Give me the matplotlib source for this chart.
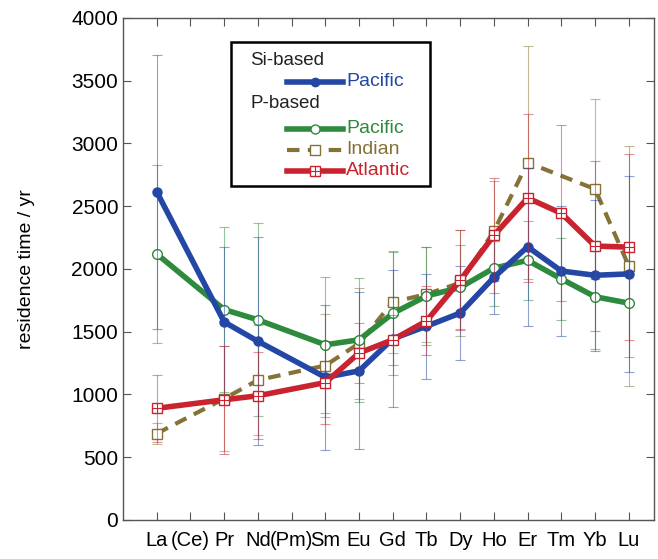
import matplotlib
matplotlib.use("Agg")
import matplotlib.pyplot as plt
import numpy as np
from matplotlib.lines import Line2D
from matplotlib.patches import Rectangle

elements = ["La", "(Ce)", "Pr", "Nd", "(Pm)", "Sm", "Eu", "Gd", "Tb", "Dy", "Ho", "Er", "Tm", "Yb", "Lu"]
nan = np.nan
si_pacific = [2614, nan, 1577, 1423, nan, 1136, 1187, 1443, 1543, 1648, 1932, 2176, 1983, 1949, 1960]
si_pacific_err = [1090, nan, 600, 830, nan, 580, 625, 545, 420, 375, 290, 630, 515, 600, 780]
p_pacific = [2119, nan, 1676, 1594, nan, 1395, 1435, 1645, 1784, 1852, 2006, 2068, 1920, 1778, 1727]
p_pacific_err = [710, nan, 660, 770, nan, 540, 495, 490, 390, 335, 300, 315, 325, 420, 430]
p_indian = [688, nan, 966, 1114, nan, 1230, 1406, 1736, 1798, 1889, 2301, 2847, nan, 2636, 2023]
p_indian_err = [85, nan, 420, 440, nan, 410, 440, 405, 380, 420, 400, 930, nan, 715, 955]
p_atlantic = [889, nan, 957, 989, nan, 1094, 1330, 1435, 1585, 1909, 2267, 2565, 2443, 2182, 2173]
p_atlantic_err = [265, nan, 430, 345, nan, 330, 240, 200, 275, 400, 460, 670, 700, 680, 740]

c_blue = "#2447a6"
c_green = "#2e8a3c"
c_olive = "#857237"
c_red = "#c9232f"

plt.rcParams['font.family'] = ['Liberation Sans', 'DejaVu Sans']
fig = plt.figure(figsize=(6.58, 5.59), dpi=100)
ax = fig.add_axes([0.187, 0.07, 0.807, 0.898])

x = np.arange(len(elements))

def series(y, err, color, marker, ls, lw, mfc, ms, z, cross=False):
    y = np.array(y, float)
    err = np.array(err, float)
    m = ~np.isnan(y)
    xs, ys, es = x[m], y[m], err[m]
    ax.errorbar(xs, ys, yerr=es, fmt='none', ecolor=color, elinewidth=0.8, capsize=3.5,
                capthick=0.8, alpha=0.5, zorder=z - 1)
    ax.plot(xs, ys, color=color, lw=lw, ls=ls, marker=marker, mfc=mfc, mec=color,
            ms=ms, mew=1.0, zorder=z, dashes=(3, 2) if ls == '--' else (None, None))
    if cross:
        ax.plot(xs, ys, ls='none', marker='+', ms=ms, mec=color, mew=0.8, zorder=z + 0.1)

series(p_indian, p_indian_err, c_olive, 's', '--', 3.0, 'white', 7, 3)
series(p_pacific, p_pacific_err, c_green, 'o', '-', 4.0, 'white', 7, 4)
series(si_pacific, si_pacific_err, c_blue, 'o', '-', 4.0, c_blue, 6.5, 5)
series(p_atlantic, p_atlantic_err, c_red, 's', '-', 4.0, 'white', 7.5, 6, cross=True)

ax.set_xlim(-1, 14.75)
ax.set_ylim(0, 4000)
ax.set_xticks(x)
ax.set_xticklabels(elements, fontsize=14.5)
ax.set_yticks(np.arange(0, 4001, 500))
ax.tick_params(axis='y', labelsize=15, direction='in', length=6, right=True, color='#555555')
ax.tick_params(axis='x', direction='in', length=6, top=True, pad=8, color='#555555')
for s in ax.spines.values():
    s.set_color('#555555')
    s.set_linewidth(1.0)
ax.set_ylabel("residence time / yr", fontsize=14, labelpad=26)

# legend box (drawn manually in axes fraction)
def fx(px):
    return (px - 123) / (654 - 123)
def fy(py):
    return (520 - py) / (520 - 18)

ax.add_patch(Rectangle((fx(231), fy(186)), fx(430) - fx(231), fy(42) - fy(186),
                       transform=ax.transAxes, fill=True, fc='white', ec='black', lw=1.8, zorder=20))
ax.text(fx(250), fy(61), "Si-based", transform=ax.transAxes, fontsize=13.5, va='center', color='#222222', zorder=21)
ax.text(fx(250), fy(104), "P-based", transform=ax.transAxes, fontsize=13.5, va='center', color='#222222', zorder=21)

def leg(py, color, ls, lw, marker, mfc, label, cross=False, ms=7):
    xs = [fx(287), fx(343)]
    ys = [fy(py), fy(py)]
    ax.add_line(Line2D(xs, ys, transform=ax.transAxes, color=color, lw=lw, ls=ls, zorder=22,
                       dashes=(3, 2) if ls == '--' else (None, None)))
    ax.add_line(Line2D([fx(315)], [fy(py)], transform=ax.transAxes, color=color, marker=marker,
                       mfc=mfc, mec=color, ms=ms, mew=1.0, ls='none', zorder=23))
    if cross:
        ax.add_line(Line2D([fx(315)], [fy(py)], transform=ax.transAxes, color=color, marker='+',
                           ms=ms, mew=0.8, ls='none', zorder=24))
    ax.text(fx(346), fy(py), label, transform=ax.transAxes, fontsize=14, va='center',
            color=color, zorder=23)

leg(82, c_blue, '-', 4.0, 'o', c_blue, "Pacific", ms=6)
leg(129, c_green, '-', 4.0, 'o', 'white', "Pacific", ms=6.5)
leg(150, c_olive, '--', 3.0, 's', 'white', "Indian", ms=6.5)
leg(171, c_red, '-', 4.0, 's', 'white', "Atlantic", cross=True, ms=6.5)

fig.savefig("out.png", dpi=100)
